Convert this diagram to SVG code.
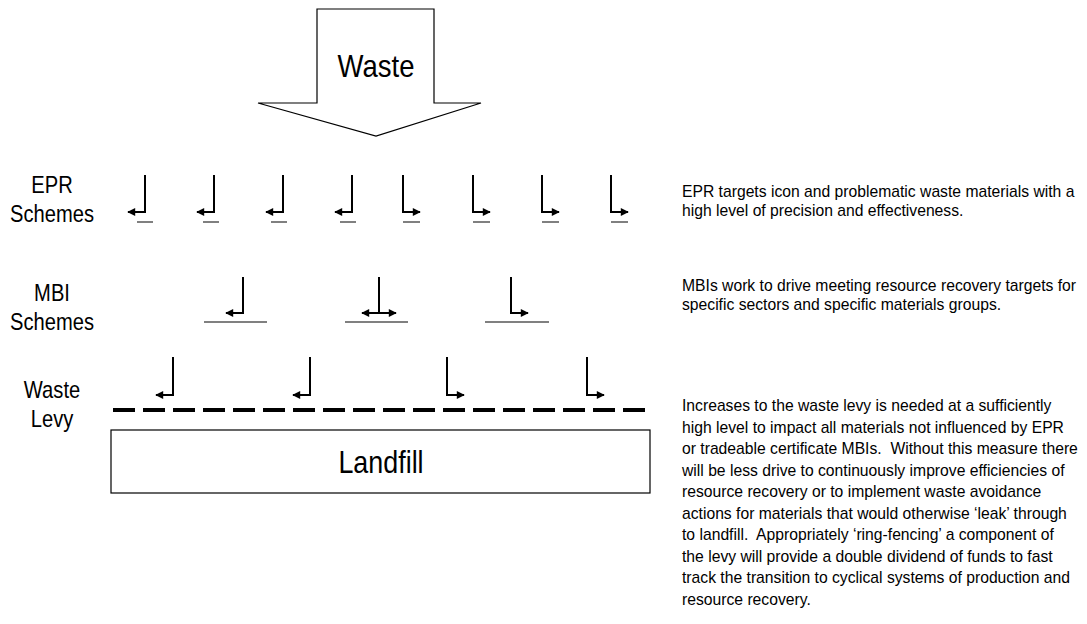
<svg xmlns="http://www.w3.org/2000/svg" width="1087" height="624" viewBox="0 0 1087 624">
<style>
  .lbl { font-family: "Liberation Sans", Arial, sans-serif; font-size: 24px; fill: #000; text-anchor: middle; }
  .big { font-family: "Liberation Sans", Arial, sans-serif; font-size: 32px; fill: #000; text-anchor: middle; }
  .para { font-family: "Liberation Sans", Arial, sans-serif; font-size: 15.7px; fill: #000; white-space: pre; }
  .arr { fill: none; stroke: #000; stroke-width: 2; }
  .ul { stroke: #808080; stroke-width: 2; }
  .shape { fill: #fff; stroke: #000; stroke-width: 1.2; }
</style>
<defs>
  <marker id="ah" viewBox="0 0 10 10" refX="9" refY="5" markerWidth="10" markerHeight="8" markerUnits="userSpaceOnUse" orient="auto-start-reverse">
    <path d="M0,0 L10,5 L0,10 Z" fill="#000"/>
  </marker>
</defs>
<rect width="1087" height="624" fill="#fff"/>

<g id="waste-arrow">
  <polygon class="shape" points="317,9 434,9 434,103 481,103 376,136 258,103 317,103"/>
  <text class="big" transform="translate(376,77) scale(0.86,1)">Waste</text>
</g>

<g id="label-epr">
  <text class="lbl" transform="translate(52,193) scale(0.84,1)">EPR</text>
  <text class="lbl" transform="translate(52,222) scale(0.84,1)">Schemes</text>
</g>
<g id="label-mbi">
  <text class="lbl" transform="translate(52,301) scale(0.84,1)">MBI</text>
  <text class="lbl" transform="translate(52,330) scale(0.84,1)">Schemes</text>
</g>
<g id="label-levy">
  <text class="lbl" transform="translate(52,398) scale(0.84,1)">Waste</text>
  <text class="lbl" transform="translate(52,427) scale(0.84,1)">Levy</text>
</g>

<g id="connectors">
  <!-- EPR row -->
  <path class="arr" marker-end="url(#ah)" d="M145,175 V212 H128"/>
  <path class="arr" marker-end="url(#ah)" d="M214,175 V212 H197"/>
  <path class="arr" marker-end="url(#ah)" d="M283,175 V212 H266"/>
  <path class="arr" marker-end="url(#ah)" d="M352,175 V212 H335"/>
  <path class="arr" marker-end="url(#ah)" d="M403,175 V212 H420"/>
  <path class="arr" marker-end="url(#ah)" d="M473,175 V212 H490"/>
  <path class="arr" marker-end="url(#ah)" d="M542,175 V212 H559"/>
  <path class="arr" marker-end="url(#ah)" d="M611,175 V212 H628"/>
  <!-- MBI row -->
  <path class="arr" marker-end="url(#ah)" d="M243,277 V313 H226"/>
  <path class="arr" d="M379,277 V313"/>
  <path class="arr" marker-start="url(#ah)" marker-end="url(#ah)" d="M362,313 H396"/>
  <path class="arr" marker-end="url(#ah)" d="M511,277 V313 H528"/>
  <!-- Levy row -->
  <path class="arr" marker-end="url(#ah)" d="M173,357 V395 H156"/>
  <path class="arr" marker-end="url(#ah)" d="M310,357 V395 H293"/>
  <path class="arr" marker-end="url(#ah)" d="M447,357 V395 H464"/>
  <path class="arr" marker-end="url(#ah)" d="M587,357 V395 H604"/>
</g>

<g id="underlines">
  <line class="ul" x1="137" y1="222" x2="153" y2="222"/>
  <line class="ul" x1="203" y1="222" x2="219" y2="222"/>
  <line class="ul" x1="271" y1="222" x2="287" y2="222"/>
  <line class="ul" x1="340" y1="222" x2="356" y2="222"/>
  <line class="ul" x1="403" y1="222" x2="420" y2="222"/>
  <line class="ul" x1="473" y1="222" x2="490" y2="222"/>
  <line class="ul" x1="542" y1="222" x2="559" y2="222"/>
  <line class="ul" x1="611" y1="222" x2="628" y2="222"/>
  <line class="ul" x1="204" y1="322" x2="267" y2="322"/>
  <line class="ul" x1="345" y1="322" x2="408" y2="322"/>
  <line class="ul" x1="485" y1="322" x2="549" y2="322"/>
</g>

<g id="levy-line">
  <line x1="113" y1="410" x2="653" y2="410" stroke="#000" stroke-width="4" stroke-dasharray="22 8"/>
</g>

<g id="landfill">
  <rect class="shape" x="111" y="430" width="539" height="63"/>
  <text class="big" transform="translate(381,473) scale(0.84,1)">Landfill</text>
</g>

<g id="text-epr">
  <text class="para" x="682" y="197">EPR targets icon and problematic waste materials with a</text>
  <text class="para" x="682" y="216">high level of precision and effectiveness.</text>
</g>
<g id="text-mbi">
  <text class="para" x="682" y="291">MBIs work to drive meeting resource recovery targets for</text>
  <text class="para" x="682" y="310">specific sectors and specific materials groups.</text>
</g>
<g id="text-levy">
  <text class="para" x="682" y="411">Increases to the waste levy is needed at a sufficiently</text>
  <text class="para" x="682" y="432.5">high level to impact all materials not influenced by EPR</text>
  <text class="para" x="682" y="454">or tradeable certificate MBIs.  Without this measure there</text>
  <text class="para" x="682" y="475.5">will be less drive to continuously improve efficiencies of</text>
  <text class="para" x="682" y="497">resource recovery or to implement waste avoidance</text>
  <text class="para" x="682" y="518.5">actions for materials that would otherwise ‘leak’ through</text>
  <text class="para" x="682" y="540">to landfill.  Appropriately ‘ring-fencing’ a component of</text>
  <text class="para" x="682" y="561.5">the levy will provide a double dividend of funds to fast</text>
  <text class="para" x="682" y="583">track the transition to cyclical systems of production and</text>
  <text class="para" x="682" y="604.5">resource recovery.</text>
</g>
</svg>
